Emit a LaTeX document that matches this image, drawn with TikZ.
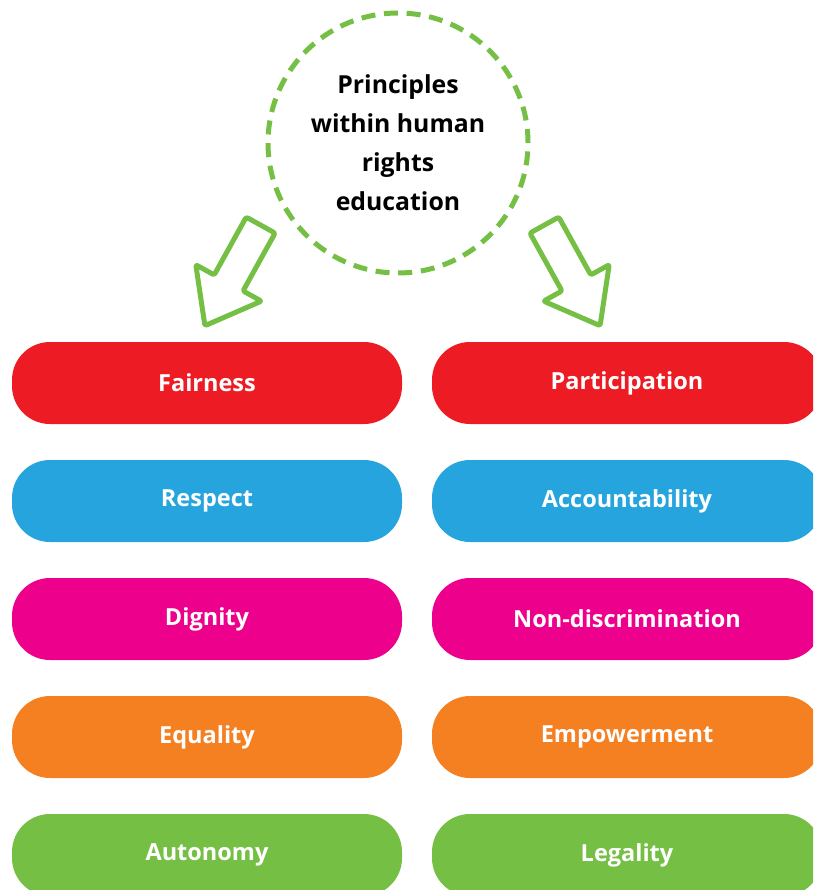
\documentclass[tikz,border=0pt]{standalone}
\usepackage{fontspec}
\setmainfont{Open Sans}
\usetikzlibrary{
    shapes.arrows
}
\definecolor{hrRed}{HTML}{ED1C24}
\definecolor{hrBlue}{HTML}{25A4DE}
\definecolor{hrPink}{HTML}{EC008C}
\definecolor{hrOrange}{HTML}{F58022}
\definecolor{hrGreen}{HTML}{74BF44}
\tikzset{
  pill/.style={
    rectangle,
    rounded corners=38pt,
    minimum width=390pt,
    minimum height=82pt,
    text=white,
    font=\fontsize{23.5}{28}\selectfont\bfseries
  },
  downarrow/.style={
    single arrow,
    draw=hrGreen,
    line width=5pt,
    line join=round,
    rounded corners=2pt,
    minimum height=115pt,
    inner xsep=0pt,
    inner ysep=14pt,
    single arrow head extend=21pt,
    single arrow tip angle=75
  }
}

\begin{document}
\begin{tikzpicture}[x=1pt,y=-1pt]
    \useasboundingbox (0,0) rectangle (813,890);
    \clip (0,0) rectangle (813,890);

    % title circle
    \node[circle,draw=hrGreen,line width=5pt,dash pattern=on 14pt off 8.7pt,
          minimum size=260pt,align=center,
          font=\fontsize{24.8}{39}\selectfont\bfseries] (title) at (398,143)
        {Principles\\within human\\rights\\education};

    % arrows
    \node[downarrow,rotate=241] (arrL) at (238,266) {};
    \node[downarrow,rotate=299] (arrR) at (567,266) {};

    % left column
    \node[pill,fill=hrRed] (fair) at (207,383) {Fairness};
    \node[pill,fill=hrBlue] (resp) at (207,501) {Respect};
    \node[pill,fill=hrPink] (dign) at (207,619) {Dignity};
    \node[pill,fill=hrOrange] (equa) at (207,737) {Equality};
    \node[pill,fill=hrGreen] (auto) at (207,855) {Autonomy};

    % right column
    \node[pill,fill=hrRed] (part) at (627,383) {Participation};
    \node[pill,fill=hrBlue] (acco) at (627,501) {Accountability};
    \node[pill,fill=hrPink] (nond) at (627,619) {Non-discrimination};
    \node[pill,fill=hrOrange] (empo) at (627,737) {Empowerment};
    \node[pill,fill=hrGreen] (lega) at (627,855) {Legality};
\end{tikzpicture}
\end{document}
